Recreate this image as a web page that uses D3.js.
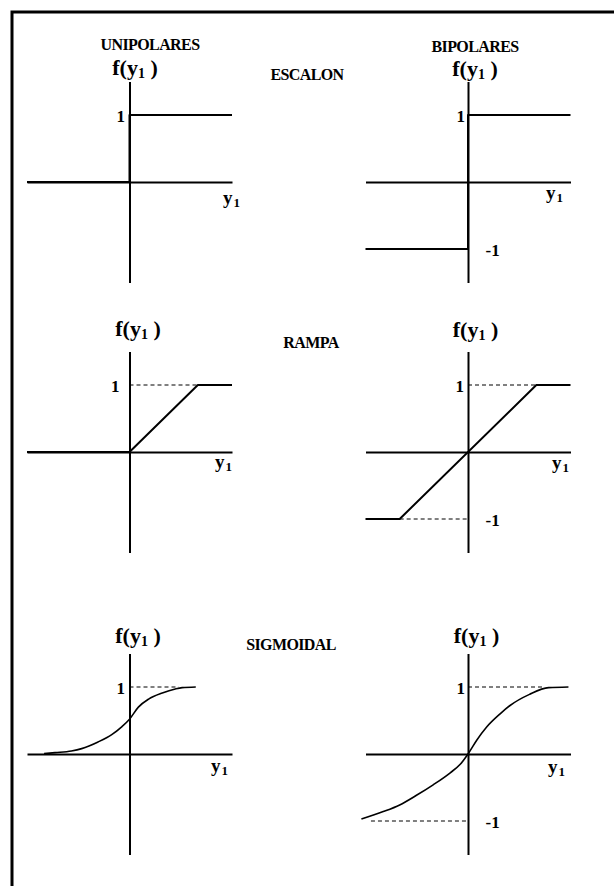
<!DOCTYPE html>
<html>
<head>
<meta charset="utf-8">
<script src="https://cdn.jsdelivr.net/npm/d3@7"></script>
<style>
  html, body { margin: 0; padding: 0; background: #fff; }
  svg { display: block; }
  text { font-family: "Liberation Serif", "DejaVu Serif", "Times New Roman", serif; fill: #000; }
</style>
</head>
<body>
<svg id="chart" width="614" height="886"></svg>
<script>
// Column and row titles
const columnTitles = ["UNIPOLARES", "BIPOLARES"];
const rowTitles = ["ESCALON", "RAMPA", "SIGMOIDAL"];
const tickLabels = ["1", "-1"];
const outputLabel = ["f(y", "1", " )"];
const inputLabel = ["y", "1"];

// Activation functions, as (y1, f(y1)) points
const stepUnipolar = [[-1.5, 0], [0, 0], [0, 1], [1.5, 1]];
const stepBipolar = [[-1.5, -1], [0, -1], [0, 1], [1.5, 1]];
const rampUnipolar = [[-1.5, 0], [0, 0], [1, 1], [1.5, 1]];
const rampBipolar = [[-1.5, -1], [-1, -1], [1, 1], [1.5, 1]];
const sigmoidUnipolar = [[-1.25, 0.005], [-1.09, 0.02], [-0.85, 0.045], [-0.70, 0.08], [-0.46, 0.18],
  [-0.26, 0.29], [-0.11, 0.41], [0, 0.52], [0.13, 0.70], [0.28, 0.82], [0.48, 0.91],
  [0.67, 0.97], [0.77, 0.99], [0.97, 1.0]];
const sigmoidBipolar = [[-1.56, -0.97], [-1.24, -0.86], [-1.0, -0.76], [-0.76, -0.62],
  [-0.51, -0.46], [-0.26, -0.28], [-0.11, -0.15], [0, 0], [0.13, 0.21], [0.27, 0.40],
  [0.47, 0.60], [0.61, 0.72], [0.90, 0.89], [1.18, 0.99], [1.47, 1.0]];

// Dashed guides to the saturation levels
const guidesRampUnipolar = [[[0, 1], [1, 1]]];
const guidesRampBipolar = [[[0, 1], [1, 1]], [[-1, -1], [0, -1]]];
const guidesSigmoidUnipolar = [[[0, 1], [0.72, 1]]];
const guidesSigmoidBipolar = [[[0, 1], [1.1, 1]], [[-1.42, -1], [0, -1]]];

const svg = d3.select("#chart");

// Frame: top and left edges
svg.append("path")
  .attr("d", "M12,886 L12,12 L614,12")
  .attr("fill", "none").attr("stroke", "#000").attr("stroke-width", 3);

// Panel layout
const colX = [129.5, 468];
const rowY = [182, 452, 754];
const panels = [
  { r: 0, c: 0, data: stepUnipolar, guides: [], curve: d3.curveLinear, neg: false,
    fy: -107, fx: 5.5, oneX: -4.5, yl: [93.5, 22] },
  { r: 0, c: 1, data: stepBipolar, guides: [], curve: d3.curveLinear, neg: true,
    fy: -106, fx: 7, oneX: -3, yl: [78, 17] },
  { r: 1, c: 0, data: rampUnipolar, guides: guidesRampUnipolar, curve: d3.curveLinear, neg: false,
    fy: -116, fx: 8.5, oneX: -10, yl: [85.5, 16] },
  { r: 1, c: 1, data: rampBipolar, guides: guidesRampBipolar, curve: d3.curveLinear, neg: true,
    fy: -115, fx: 7.5, oneX: -4, yl: [84, 17] },
  { r: 2, c: 0, data: sigmoidUnipolar, guides: guidesSigmoidUnipolar, curve: d3.curveMonotoneX, neg: false,
    fy: -111, fx: 8.5, oneX: -4.5, yl: [81.5, 18] },
  { r: 2, c: 1, data: sigmoidBipolar, guides: guidesSigmoidBipolar, curve: d3.curveMonotoneX, neg: true,
    fy: -111, fx: 8.5, oneX: -3, yl: [80, 19] }
];

panels.forEach(p => {
  const ox = colX[p.c], oy = rowY[p.r];
  const x = d3.scaleLinear().domain([-1.5, 1.5]).range([ox - 102.5, ox + 102.5]);
  const y = d3.scaleLinear().domain([-1.5, 1.5]).range([oy + 100.5, oy - 100.5]);
  const g = svg.append("g");

  // Axes through the origin
  g.append("g").attr("transform", `translate(0,${y(0)})`)
    .call(d3.axisBottom(x).tickValues([]).tickSizeOuter(0))
    .call(a => a.select(".domain").attr("stroke-width", 2));
  g.append("g").attr("transform", `translate(${x(0)},0)`)
    .call(d3.axisLeft(y).tickValues([]).tickSizeOuter(0))
    .call(a => a.select(".domain").attr("stroke-width", 2));

  const line = d3.line().x(d => x(d[0])).y(d => y(d[1])).curve(p.curve);

  // Guides
  p.guides.forEach(seg => {
    g.append("path").attr("d", d3.line().x(d => x(d[0])).y(d => y(d[1]))(seg))
      .attr("fill", "none").attr("stroke", "#000").attr("stroke-width", 1)
      .attr("stroke-dasharray", "4,3");
  });

  // Function
  g.append("path").attr("d", line(p.data))
    .attr("fill", "none").attr("stroke", "#000")
    .attr("stroke-width", p.curve === d3.curveLinear ? 2 : 1.6)
    .attr("stroke-linejoin", "round");

  // Output label f(y1)
  const fl = g.append("text")
    .attr("x", x(0) + p.fx).attr("y", oy + p.fy)
    .attr("text-anchor", "middle")
    .attr("font-size", 22).attr("font-weight", "bold");
  fl.append("tspan").text(outputLabel[0]);
  fl.append("tspan").attr("font-size", 14).attr("dy", 3).text(outputLabel[1]);
  fl.append("tspan").attr("dy", -3).text(outputLabel[2]);

  // Input label y1
  const il = g.append("text")
    .attr("x", x(0) + p.yl[0]).attr("y", oy + p.yl[1])
    .attr("font-size", 19).attr("font-weight", "bold");
  il.append("tspan").text(inputLabel[0]);
  il.append("tspan").attr("font-size", 13).attr("dy", 3).attr("dx", 1).text(inputLabel[1]);

  // Level labels
  g.append("text").attr("x", x(0) + p.oneX).attr("y", y(1) + 6.5)
    .attr("text-anchor", "end").attr("font-size", 17).attr("font-weight", "bold")
    .text(tickLabels[0]);
  if (p.neg) {
    g.append("text").attr("x", x(0) + 17.5).attr("y", y(-1) + 6.5)
      .attr("font-size", 17).attr("font-weight", "bold")
      .text(tickLabels[1]);
  }
});

// Column titles
[[150, 50], [475, 52]].forEach((pos, i) => {
  svg.append("text").attr("x", pos[0]).attr("y", pos[1])
    .attr("text-anchor", "middle").attr("font-size", 16).attr("font-weight", "bold")
    .attr("letter-spacing", -0.6)
    .text(columnTitles[i]);
});

// Row titles
[[307, 80], [311, 348], [291, 650]].forEach((pos, i) => {
  svg.append("text").attr("x", pos[0]).attr("y", pos[1])
    .attr("text-anchor", "middle").attr("font-size", 16).attr("font-weight", "bold")
    .attr("letter-spacing", -0.6)
    .text(rowTitles[i]);
});
</script>
</body>
</html>
